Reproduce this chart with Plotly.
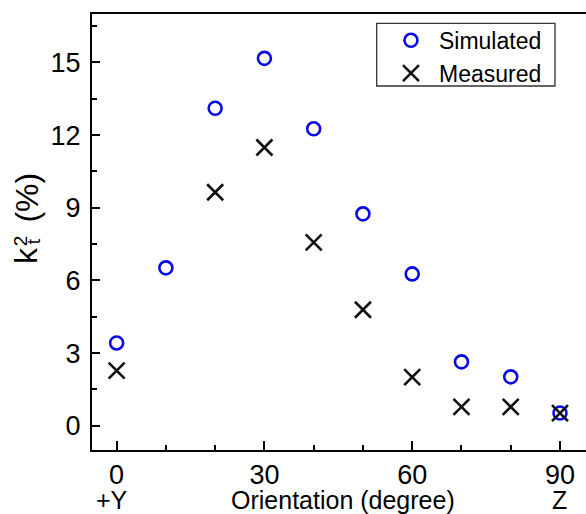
import plotly.graph_objects as go

# ---- data ----
orientation = [0, 10, 20, 30, 40, 50, 60, 70, 80, 90]
simulated = [3.42, 6.52, 13.11, 15.17, 12.26, 8.75, 6.27, 2.64, 2.02, 0.53]

orientation_meas = [0, 20, 30, 40, 50, 60, 70, 80, 90]
measured = [2.28, 9.64, 11.49, 7.57, 4.79, 2.01, 0.78, 0.78, 0.52]

x_ticks = [0, 30, 60, 90]
y_ticks = [0, 3, 6, 9, 12, 15]
x_end_labels = ["+Y", "Z"]
x_end_pos = [-1, 90]

FONT = "Liberation Sans, Arial, sans-serif"

fig = go.Figure()
fig.add_trace(go.Scatter(
    x=orientation, y=simulated, mode="markers", name="Simulated",
    marker=dict(symbol="circle-open", size=13, color="#0A0AE8",
                line=dict(width=2.6, color="#0A0AE8")),
))
fig.add_trace(go.Scatter(
    x=orientation_meas, y=measured, mode="markers", name="Measured",
    marker=dict(symbol="x-thin-open", size=16, color="#111111",
                line=dict(width=2.6, color="#111111")),
))

fig.update_layout(
    width=586, height=514,
    margin=dict(l=92, r=0, t=14, b=64),
    paper_bgcolor="white", plot_bgcolor="white",
    font=dict(family=FONT, color="black"),
    showlegend=True,
    legend=dict(
        x=0.589, y=0.989, xanchor="left", yanchor="top",
        borderwidth=0,
        font=dict(size=23, family=FONT, color="black"),
        bgcolor="rgba(0,0,0,0)", itemwidth=46, tracegroupgap=0,
    ),
    shapes=[dict(type="rect", xref="paper", yref="paper",
                 x0=0.5763, x1=0.9372, y0=0.8349, y1=0.9787,
                 line=dict(color="#333333", width=1.3), fillcolor="white",
                 layer="below")],
)

fig.update_xaxes(
    range=[-5.0, 95.28], tickvals=x_ticks,
    showgrid=False, zeroline=False,
    showline=True, linecolor="black", linewidth=2, mirror=True,
    ticks="inside", ticklen=9, tickwidth=2, tickcolor="black",
    tickfont=dict(size=27, family=FONT, color="black"),
    ticklabelstandoff=0,
    minor=dict(dtick=10, ticks="inside", ticklen=5, tickwidth=2, tickcolor="black"),
)
fig.update_yaxes(
    range=[-1, 17], tickvals=y_ticks,
    showgrid=False, zeroline=False,
    showline=True, linecolor="black", linewidth=2, mirror=False,
    ticks="inside", ticklen=8, tickwidth=2, tickcolor="black",
    tickfont=dict(size=27, family=FONT, color="black"),
    ticklabelstandoff=4,
    minor=dict(dtick=1.5, ticks="inside", ticklen=5, tickwidth=2, tickcolor="black"),
)

annotations = []
# x-axis title
annotations.append(dict(text="Orientation (degree)", x=46, xref="x", y=-0.114, yref="paper",
                        xanchor="center", yanchor="middle", showarrow=False,
                        font=dict(size=25, family=FONT, color="black")))
for lab, pos in zip(x_end_labels, x_end_pos):
    annotations.append(dict(text=lab, x=pos, xref="x", y=-0.114, yref="paper",
                            xanchor="center", yanchor="middle", showarrow=False,
                            font=dict(size=25, family=FONT, color="black")))
# y-axis title built from pieces: k, superscript 2 stacked over subscript t, (%)
ytitle_parts = [
    ("k", -0.1336, 0.445, 32),
    ("2", -0.1457, 0.479, 19),
    ("t", -0.1194, 0.479, 19),
    ("(%)", -0.1316, 0.579, 32),
]
for txt, px, py, fs in ytitle_parts:
    annotations.append(dict(text=txt, x=px, xref="paper", y=py, yref="paper",
                            xanchor="center", yanchor="middle", showarrow=False,
                            textangle=-90,
                            font=dict(size=fs, family=FONT, color="black")))
fig.update_layout(annotations=annotations)

fig.write_html("out.html")
